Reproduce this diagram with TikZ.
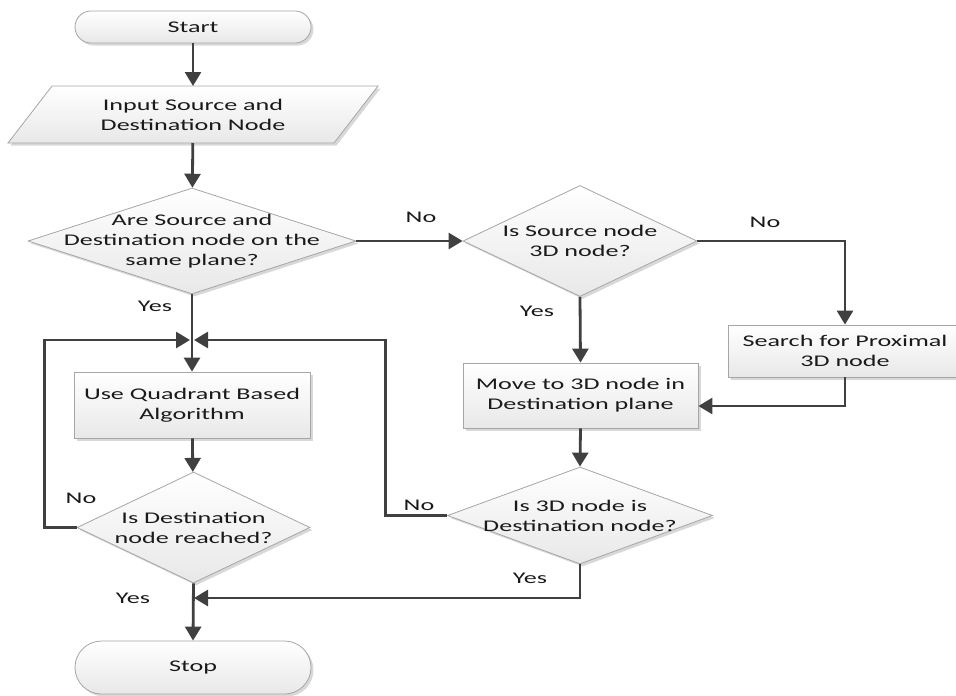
\documentclass[tikz,border=0pt]{standalone}
\usepackage{fontspec}
\setmainfont{Carlito}[FakeStretch=1.6]
\usetikzlibrary{shapes.geometric,shapes.misc,arrows.meta,shadows}
\definecolor{linec}{HTML}{404040}
\definecolor{borderc}{HTML}{A6A6A6}
\definecolor{textc}{HTML}{1A1A1A}
\pgfdeclarelayer{bg}
\pgfsetlayers{bg,main}
\begin{document}
\begin{tikzpicture}[x=1pt,y=-1pt,
  txt/.style={font=\fontsize{16.3}{20}\selectfont, text=textc, align=center},
  shp/.style={draw=borderc, line width=0.8pt, top color=white, bottom color=black!9,
    drop shadow={shadow xshift=2.5pt, shadow yshift=-2.5pt, fill=black!30, opacity=0.5}},
  term/.style={shp, txt, rounded rectangle, minimum width=236pt, inner sep=0pt},
  box/.style={shp, txt, rectangle, inner sep=0pt},
  dia/.style={shp, diamond, inner sep=0pt},
  lbl/.style={txt},
  arr/.style={draw=linec, line width=2.8pt, -{Triangle[length=14pt,width=16pt]}}
]
\useasboundingbox (0,0) rectangle (956,696);

% shapes
\node[term, minimum height=32pt] (start) at (193,27) {Start};
\node[txt, minimum width=370pt, minimum height=57pt, inner sep=0pt, outer sep=0pt] (inp) at (193,114.5) {Input Source and\\Destination Node};
\begin{pgfonlayer}{bg}
\path[shp] ([xshift=44pt]inp.north west) -- (inp.north east) -- ([xshift=-44pt]inp.south east) -- (inp.south west) -- cycle;
\end{pgfonlayer}

\node[dia, minimum width=328pt, minimum height=106pt,
  label={[txt]center:Are Source and\\Destination node on the\\same plane?}] (d1) at (192,241) {};
\node[dia, minimum width=234pt, minimum height=111pt,
  label={[txt]center:Is Source node\\3D node?}] (d2) at (580,241) {};
\node[box, minimum width=234pt, minimum height=52pt] (search) at (845,351) {Search for Proximal\\3D node};
\node[box, minimum width=235pt, minimum height=65pt] (move) at (580.5,395.5) {Move to 3D node in\\Destination plane};
\node[dia, minimum width=265pt, minimum height=97pt,
  label={[txt]center:Is 3D node is\\Destination node?}] (d3) at (580,515.5) {};
\node[box, minimum width=236pt, minimum height=66pt] (quad) at (192,405) {Use Quadrant Based\\Algorithm};
\node[dia, minimum width=233pt, minimum height=111pt,
  label={[txt]center:Is Destination\\node reached?}] (d4) at (193.5,527.5) {};
\node[term, minimum height=53pt] (stop) at (193,667.5) {Stop};

\coordinate (jn) at (192,340);
\coordinate (jy) at (192,598);

% connectors
\draw[arr] (start) -- (inp);
\draw[arr] (inp) -- (d1);
\draw[arr] (d1.south) -- (quad.north);
\draw[arr] (d1.east) -- (d2.west);
\draw[arr] (d2.east) -| (search.north);
\draw[arr] (d2.south) -- (move.north);
\draw[arr] (search.south) |- ([yshift=-10.5pt]move.east);
\draw[arr] (move.south) -- (d3.north);
\draw[arr] (d3.west) -- ++(-62,0) |- ([xshift=2pt]jn);
\draw[arr] (d3.south) |- ([xshift=2pt]jy);
\draw[arr] (quad) -- (d4);
\draw[arr] (d4.west) -- ++(-32,0) |- ([xshift=-2pt]jn);
\draw[arr] (d4.south) -- (stop.north);

% labels
\node[lbl] (l1) at (155,306) {Yes};
\node[lbl] (l2) at (421,217) {No};
\node[lbl] (l3) at (765,222) {No};
\node[lbl] (l4) at (537,311) {Yes};
\node[lbl] (l5) at (419,505) {No};
\node[lbl] (l6) at (530,578) {Yes};
\node[lbl] (l7) at (81,498) {No};
\node[lbl] (l8) at (133,598) {Yes};
\end{tikzpicture}
\end{document}
